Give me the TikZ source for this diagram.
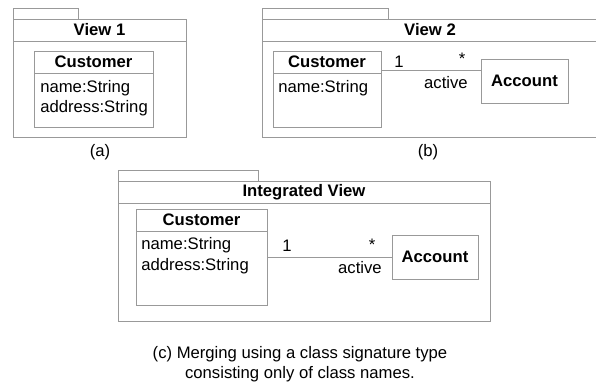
\documentclass[tikz,border=0pt]{standalone}
\usepackage{fontspec}
\setmainfont{Liberation Sans}
\usetikzlibrary{positioning}

\tikzset{
    umlline/.style={draw=black!40, line width=0.6pt},
    box/.style={umlline, rectangle, inner sep=0pt, anchor=north west},
    heading/.style={font=\fontsize{10}{12}\selectfont\bfseries, inner sep=0pt},
    attr/.style={anchor=west, inner sep=0pt},
    mult/.style={inner sep=0pt}
}

\begin{document}
\begin{tikzpicture}[x=0.6pt, y=-0.6pt, font=\fontsize{10}{12}\selectfont]
    \useasboundingbox (0,0) rectangle (596,385);

    % (a) View 1
    \node[box, minimum width={65*0.6pt}, minimum height={11*0.6pt}] (tab1) at (13,8) {};
    \node[box, minimum width={173*0.6pt}, minimum height={118*0.6pt}] (pkg1) at (13,19) {};
    \draw[umlline] (13,41) -- (186,41);
    \node[heading] (title1) at (99.5,30) {View 1};
    \node[box, minimum width={119*0.6pt}, minimum height={76*0.6pt}] (cust1) at (34,51) {};
    \draw[umlline] (34,73) -- (153,73);
    \node[heading] (cname1) at (93.5,62) {Customer};
    \node[attr] (name1) at (40,88) {name:String};
    \node[attr] (addr1) at (40,108) {address:String};
    \node (capa) at (100,152) {(a)};

    % (b) View 2
    \node[box, minimum width={126*0.6pt}, minimum height={11*0.6pt}] (tab2) at (262,8) {};
    \draw[umlline] (597,19) -- (262,19) -- (262,137) -- (597,137);
    \draw[umlline] (262,41) -- (597,41);
    \node[heading] (title2) at (430,30) {View 2};
    \node[box, minimum width={108*0.6pt}, minimum height={76*0.6pt}] (cust2) at (273,51) {};
    \draw[umlline] (273,73) -- (381,73);
    \node[heading] (cname2) at (327,62) {Customer};
    \node[attr] (name2) at (278,88) {name:String};
    \node[box, minimum width={87*0.6pt}, minimum height={44*0.6pt}] (acc2) at (481,59) {};
    \node[heading] (aname2) at (524.5,81) {Account};
    \coordinate (assoc2) at (381,70);
    \draw[umlline] (assoc2) -- (assoc2 -| acc2.west);
    \node[mult] (one2) at (399,62) {1};
    \node[mult] (many2) at (462,59) {*};
    \node[mult] (role2) at (446,83) {active};
    \node (capb) at (428,152) {(b)};

    % (c) Integrated View
    \node[box, minimum width={140*0.6pt}, minimum height={11*0.6pt}] (tab3) at (118,170) {};
    \node[box, minimum width={372*0.6pt}, minimum height={140*0.6pt}] (pkg3) at (118,181) {};
    \draw[umlline] (118,203) -- (490,203);
    \node[heading] (title3) at (304,192) {Integrated View};
    \node[box, minimum width={131*0.6pt}, minimum height={96*0.6pt}] (cust3) at (136,209) {};
    \draw[umlline] (136,231) -- (267,231);
    \node[heading] (cname3) at (201.5,220) {Customer};
    \node[attr] (name3) at (141,245) {name:String};
    \node[attr] (addr3) at (141,266) {address:String};
    \node[box, minimum width={86*0.6pt}, minimum height={44*0.6pt}] (acc3) at (392,235) {};
    \node[heading] (aname3) at (435,257) {Account};
    \draw[umlline] (cust3.east |- acc3.west) -- (acc3.west);
    \node[mult] (one3) at (287,246) {1};
    \node[mult] (many3) at (372,245) {*};
    \node[mult] (role3) at (360,268) {active};

    \node[align=center] (capc) at (300,364) {(c) Merging using a class signature type\\consisting only of class names.};
\end{tikzpicture}
\end{document}
